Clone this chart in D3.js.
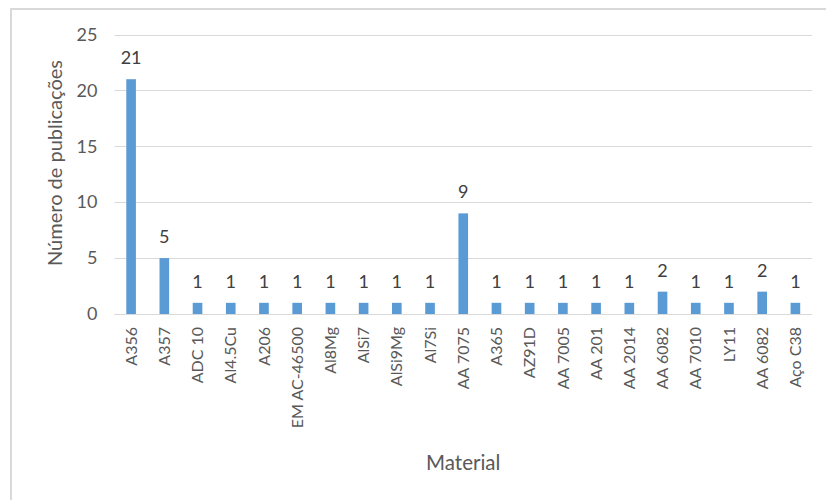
<!DOCTYPE html>
<html>
<head>
<meta charset="utf-8">
<script src="https://cdn.jsdelivr.net/npm/d3@7/dist/d3.min.js"></script>
<style>
  html, body { margin: 0; padding: 0; background: #fff; }
  svg { display: block; font-family: Lato, "Open Sans", sans-serif; }
</style>
</head>
<body>
<svg id="chart" width="826" height="500"></svg>
<script>
// Materials and number of publications for each
const materials = ["A356", "A357", "ADC 10", "Al4.5Cu", "A206", "EM AC-46500", "Al8Mg", "AlSi7",
  "AlSi9Mg", "Al7Si", "AA 7075", "A365", "AZ91D", "AA 7005", "AA 201", "AA 2014", "AA 6082",
  "AA 7010", "LY11", "AA 6082", "Aço C38"];
const publications = [21, 5, 1, 1, 1, 1, 1, 1, 1, 1, 9, 1, 1, 1, 1, 1, 2, 1, 1, 2, 1];
const yTicks = [0, 5, 10, 15, 20, 25];

const svg = d3.select("#chart");
const W = 826, H = 500;
const plot = { left: 114.5, right: 812, top: 34.5, bottom: 314 };

// Outer frame (top and left edges visible)
svg.append("rect")
  .attr("x", 11).attr("y", 9)
  .attr("width", W + 10).attr("height", H + 10)
  .attr("fill", "#fff").attr("stroke", "#d9d9d9").attr("stroke-width", 2);

const x = d3.scaleBand()
  .domain(d3.range(materials.length))
  .range([plot.left, plot.right])
  .paddingInner(0.71).paddingOuter(0.355);

const y = d3.scaleLinear().domain([0, 25]).range([plot.bottom, plot.top]);

// Horizontal gridlines
svg.append("g")
  .selectAll("line")
  .data(yTicks)
  .join("line")
  .attr("x1", plot.left).attr("x2", plot.right)
  .attr("y1", d => Math.round(y(d)) + 0.5).attr("y2", d => Math.round(y(d)) + 0.5)
  .attr("stroke", "#d9d9d9").attr("stroke-width", 1);

// Y axis tick labels
const yAxis = d3.axisLeft(y).tickValues(yTicks).tickSize(0).tickPadding(0);
const gy = svg.append("g").attr("transform", `translate(${plot.left - 17},0)`).call(yAxis);
gy.select(".domain").remove();
gy.selectAll("text")
  .attr("fill", "#595959").attr("font-size", 18)
  .attr("font-family", "Lato, 'Open Sans', sans-serif");

// Bars
svg.append("g")
  .selectAll("rect")
  .data(publications)
  .join("rect")
  .attr("x", (d, i) => x(i))
  .attr("y", d => y(d))
  .attr("width", x.bandwidth())
  .attr("height", d => y(0) - y(d))
  .attr("fill", "#5b9bd5");

// Value labels above bars
svg.append("g")
  .selectAll("text")
  .data(publications)
  .join("text")
  .attr("x", (d, i) => x(i) + x.bandwidth() / 2)
  .attr("y", d => y(d) - 15)
  .attr("text-anchor", "middle")
  .attr("fill", "#404040")
  .attr("font-size", 18)
  .text(d => d);

// X axis baseline
svg.append("line")
  .attr("x1", plot.left).attr("x2", plot.right)
  .attr("y1", Math.round(y(0)) + 0.5).attr("y2", Math.round(y(0)) + 0.5)
  .attr("stroke", "#d9d9d9");

// X axis category labels, rotated
const xAxis = d3.axisBottom(x).tickFormat(i => materials[i]).tickSize(0).tickPadding(0);
const gx = svg.append("g").attr("transform", `translate(0,${plot.bottom})`).call(xAxis);
gx.select(".domain").remove();
gx.selectAll("text")
  .attr("transform", "rotate(-90)")
  .attr("x", -13).attr("y", 0).attr("dy", "0.35em")
  .attr("text-anchor", "end")
  .attr("fill", "#595959").attr("font-size", 16)
  .attr("font-family", "Lato, 'Open Sans', sans-serif");

// Axis titles
svg.append("text")
  .attr("transform", "translate(62,163) rotate(-90)")
  .attr("text-anchor", "middle")
  .attr("fill", "#595959").attr("font-size", 20)
  .text("Número de publicações");

svg.append("text")
  .attr("x", (plot.left + plot.right) / 2)
  .attr("y", 470)
  .attr("text-anchor", "middle")
  .attr("fill", "#595959").attr("font-size", 20.5)
  .text("Material");
</script>
</body>
</html>
